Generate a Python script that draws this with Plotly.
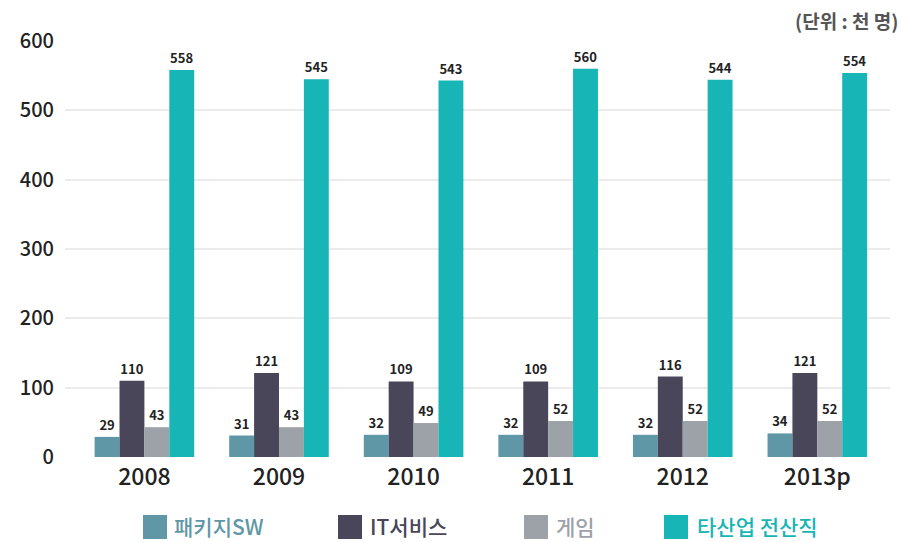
import plotly.graph_objects as go

# Employment by sector (unit: thousand people)
years = ["2008", "2009", "2010", "2011", "2012", "2013p"]
series_names = ["패키지SW", "IT서비스", "게임", "타산업 전산직"]
package_sw = [29, 31, 32, 32, 32, 34]
it_service = [110, 121, 109, 109, 116, 121]
game = [43, 43, 49, 52, 52, 52]
other_it = [558, 545, 543, 560, 544, 554]
y_ticks = [0, 100, 200, 300, 400, 500, 600]

colors = ["#5f97a6", "#4a4659", "#9da1a8", "#17b5b5"]
values = [package_sw, it_service, game, other_it]

FONT = "Noto Sans CJK KR"
W, H = 903, 542
ML, MR, MT, MB = 65, 13, 41, 85

fig = go.Figure()
for name, vals, col in zip(series_names, values, colors):
    fig.add_trace(go.Bar(
        x=years, y=vals, name=name,
        marker=dict(color=col, line=dict(width=0)),
        text=vals, texttemplate="<b>%{text}</b>", textposition="outside",
        textfont=dict(family=FONT, size=13, color="#222222"),
        cliponaxis=False, showlegend=False,
    ))

# Custom legend row beneath the axis: coloured square + coloured label
plot_w = W - ML - MR
plot_h = H - MT - MB


def px_x(px):
    return (px - ML) / plot_w


def px_y(py):
    return (H - MB - py) / plot_h


legend_sq_x = [143, 338, 524, 664]
legend_txt_x = [172, 368, 554, 695]
legend_y = 526
sq = 24
annotations = []
shapes = []
for name, col, sx, tx in zip(series_names, colors, legend_sq_x, legend_txt_x):
    shapes.append(dict(
        type="rect", xref="paper", yref="paper",
        x0=px_x(sx), x1=px_x(sx + sq),
        y0=px_y(legend_y + 1 + sq / 2), y1=px_y(legend_y + 1 - sq / 2),
        fillcolor=col, line=dict(width=0),
    ))
    annotations.append(dict(
        x=px_x(tx), y=px_y(legend_y),
        xref="paper", yref="paper", text=name, showarrow=False,
        font=dict(family=FONT, size=21, color=col, weight=500),
        xanchor="left", yanchor="middle",
    ))

annotations.append(dict(
    x=px_x(900), y=px_y(21), xref="paper", yref="paper",
    text="<b>(단위 : 천 명)</b>", showarrow=False,
    font=dict(family=FONT, size=19, color="#555555"),
    xanchor="right", yanchor="middle",
))

fig.update_layout(
    width=W, height=H,
    margin=dict(l=ML, r=MR, t=MT, b=MB),
    paper_bgcolor="white", plot_bgcolor="white",
    barmode="group", bargap=0.26, bargroupgap=0,
    font=dict(family=FONT, color="#222222"),
    annotations=annotations,
    shapes=shapes,
    xaxis=dict(
        range=[-0.59, 5.54], showgrid=False, zeroline=False, showline=False,
        ticks="", tickfont=dict(family=FONT, size=23, color="#222222", weight=500),
        ticklabelstandoff=4,
    ),
    yaxis=dict(
        range=[0, 600], tickvals=y_ticks, showgrid=True, gridcolor="#ebebeb",
        gridwidth=1.5, zeroline=False, showline=False, ticks="",
        tickfont=dict(family=FONT, size=20, color="#222222", weight=500),
        ticklabelstandoff=10,
    ),
)

fig.write_html("out.html")
